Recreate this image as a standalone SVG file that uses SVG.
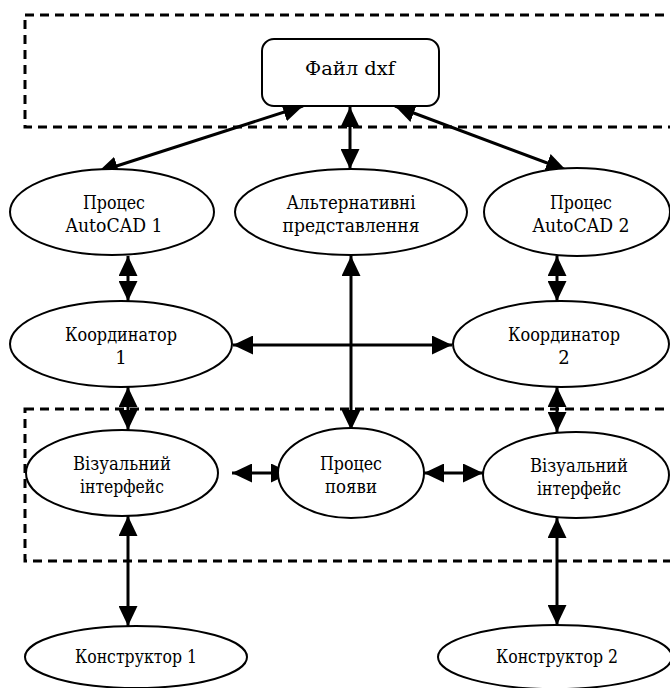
<svg xmlns="http://www.w3.org/2000/svg" width="670" height="688" viewBox="0 0 670 688">
<defs>
<style>
.box{fill:none;stroke:#000;stroke-width:3;stroke-dasharray:9 6}
.node{fill:#fff;stroke:#000;stroke-width:2}
.t{font-family:"DejaVu Serif",serif;font-size:18px;fill:#000;text-anchor:middle}
.c{stroke:#000;stroke-width:3;fill:none;marker-start:url(#ah);marker-end:url(#ah)}
</style>
<marker id="ah" markerUnits="userSpaceOnUse" markerWidth="20" markerHeight="19" refX="20" refY="9.5" orient="auto-start-reverse" viewBox="0 0 20 19">
<path d="M0,0 L20,9.5 L0,19 z" fill="#000"/>
</marker>
</defs>
<rect class="box" x="25" y="15" width="660" height="112"/>
<rect class="box" x="25" y="409" width="660" height="152"/>
<g id="connectors">
<line class="c" x1="303" y1="106" x2="98" y2="172"/>
<line class="c" x1="350" y1="107" x2="350" y2="169"/>
<line class="c" x1="395" y1="106" x2="566" y2="170"/>
<line class="c" x1="128" y1="256" x2="128" y2="301"/>
<line class="c" x1="351" y1="256" x2="351" y2="430"/>
<line class="c" x1="557" y1="256" x2="557" y2="301"/>
<line class="c" x1="233" y1="345" x2="452" y2="345"/>
<line class="c" x1="128" y1="387" x2="128" y2="430"/>
<line class="c" x1="557" y1="387" x2="557" y2="432"/>
<line class="c" x1="232" y1="473" x2="291" y2="473"/>
<line class="c" x1="424" y1="473" x2="483" y2="473"/>
<line class="c" x1="128" y1="516" x2="128" y2="626"/>
<line class="c" x1="557" y1="518" x2="557" y2="625"/>
</g>
<g id="dxf">
<rect class="node" x="262" y="39" width="177" height="67" rx="12"/>
<text class="t" x="350" y="75" textLength="90" lengthAdjust="spacingAndGlyphs">Файл dxf</text>
</g>
<g id="autocad1">
<ellipse class="node" cx="112" cy="212" rx="102" ry="43"/>
<text class="t" x="114" y="209" textLength="62" lengthAdjust="spacingAndGlyphs">Процес</text>
<text class="t" x="114" y="232" textLength="97" lengthAdjust="spacingAndGlyphs">AutoCAD 1</text>
</g>
<g id="alt">
<ellipse class="node" cx="351" cy="212" rx="116" ry="43"/>
<text class="t" x="351" y="209" textLength="129" lengthAdjust="spacingAndGlyphs">Альтернативні</text>
<text class="t" x="351" y="232" textLength="137" lengthAdjust="spacingAndGlyphs">представлення</text>
</g>
<g id="autocad2">
<ellipse class="node" cx="577" cy="212" rx="93" ry="44"/>
<text class="t" x="581" y="209" textLength="62" lengthAdjust="spacingAndGlyphs">Процес</text>
<text class="t" x="581" y="232" textLength="97" lengthAdjust="spacingAndGlyphs">AutoCAD 2</text>
</g>
<g id="coord1">
<ellipse class="node" cx="121" cy="344" rx="111" ry="43"/>
<text class="t" x="121" y="341" textLength="112" lengthAdjust="spacingAndGlyphs">Координатор</text>
<text class="t" x="121" y="364">1</text>
</g>
<g id="coord2">
<ellipse class="node" cx="561" cy="344" rx="108" ry="43"/>
<text class="t" x="564" y="341" textLength="112" lengthAdjust="spacingAndGlyphs">Координатор</text>
<text class="t" x="564" y="364">2</text>
</g>
<g id="vis1">
<ellipse class="node" cx="122" cy="473" rx="96" ry="43"/>
<text class="t" x="122" y="470" textLength="98" lengthAdjust="spacingAndGlyphs">Візуальний</text>
<text class="t" x="122" y="493" textLength="84" lengthAdjust="spacingAndGlyphs">інтерфейс</text>
</g>
<g id="appear">
<ellipse class="node" cx="351" cy="473" rx="73" ry="45"/>
<text class="t" x="351" y="470" textLength="62" lengthAdjust="spacingAndGlyphs">Процес</text>
<text class="t" x="351" y="493" textLength="52" lengthAdjust="spacingAndGlyphs">появи</text>
</g>
<g id="vis2">
<ellipse class="node" cx="576" cy="475" rx="93" ry="43"/>
<text class="t" x="579" y="472" textLength="98" lengthAdjust="spacingAndGlyphs">Візуальний</text>
<text class="t" x="579" y="495" textLength="84" lengthAdjust="spacingAndGlyphs">інтерфейс</text>
</g>
<g id="designer1">
<ellipse class="node" cx="136" cy="657" rx="111" ry="31"/>
<text class="t" x="136" y="663" textLength="122" lengthAdjust="spacingAndGlyphs">Конструктор 1</text>
</g>
<g id="designer2">
<ellipse class="node" cx="555" cy="657" rx="117" ry="32"/>
<text class="t" x="557" y="663" textLength="122" lengthAdjust="spacingAndGlyphs">Конструктор 2</text>
</g>
</svg>
